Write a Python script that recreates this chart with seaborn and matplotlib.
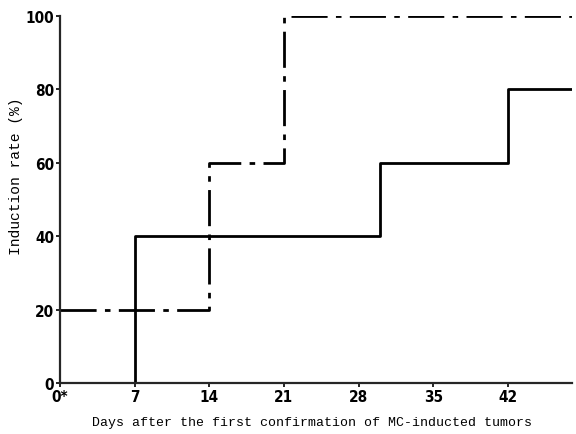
import pandas as pd
import numpy as np
import matplotlib
matplotlib.use("Agg")
import matplotlib.pyplot as plt
import seaborn as sns

# step points of the two curves
solid_days = [7, 7, 30, 30, 42, 42, 48]
solid_rate = [0, 40, 40, 60, 60, 80, 80]
dash_days = [0, 14, 14, 21, 21, 48]
dash_rate = [20, 20, 60, 60, 100, 100]

xticks = [0, 7, 14, 21, 28, 35, 42]
xtick_labels = ["0*", "7", "14", "21", "28", "35", "42"]
yticks = [0, 20, 40, 60, 80, 100]

sns.set_style("ticks")
plt.rcParams['font.family'] = ['DejaVu Sans']

df_solid = pd.DataFrame({"day": solid_days, "rate": solid_rate})
df_dash = pd.DataFrame({"day": dash_days, "rate": dash_rate})

fig = plt.figure(figsize=(5.76, 4.35), dpi=100)
ax = fig.add_axes([0.104, 0.117, 0.889, 0.844])

sns.lineplot(data=df_solid, x="day", y="rate", sort=False, estimator=None,
             color="black", linewidth=2.0, ax=ax)
sns.lineplot(data=df_dash, x="day", y="rate", sort=False, estimator=None,
             color="black", linewidth=2.0, linestyle=(0, (13, 3, 2, 3)), ax=ax)

ax.set_xlim(0, 48)
ax.set_ylim(0, 100)
ax.set_xticks(xticks)
ax.set_xticklabels(xtick_labels, fontweight="bold", fontsize=11, fontstretch="condensed")
ax.set_yticks(yticks)
ax.set_yticklabels([str(v) for v in yticks], fontweight="bold", fontsize=11,
                   fontstretch="condensed")
ax.tick_params(axis="both", length=3, width=1.2, pad=1, colors="black")

mono = ["Liberation Mono", "DejaVu Sans Mono"]
ax.set_xlabel("Days after the first confirmation of MC-inducted tumors",
              fontsize=9.5, family=mono, color="black")
ax.xaxis.set_label_coords(0.492, -0.09)
ax.set_ylabel("Induction rate (%)", fontsize=10.5, family=mono, color="black")
ax.yaxis.set_label_coords(-0.072, 0.567)

sns.despine(ax=ax)
for s in ["left", "bottom"]:
    ax.spines[s].set_linewidth(1.6)

fig.savefig("out.png", dpi=100)
